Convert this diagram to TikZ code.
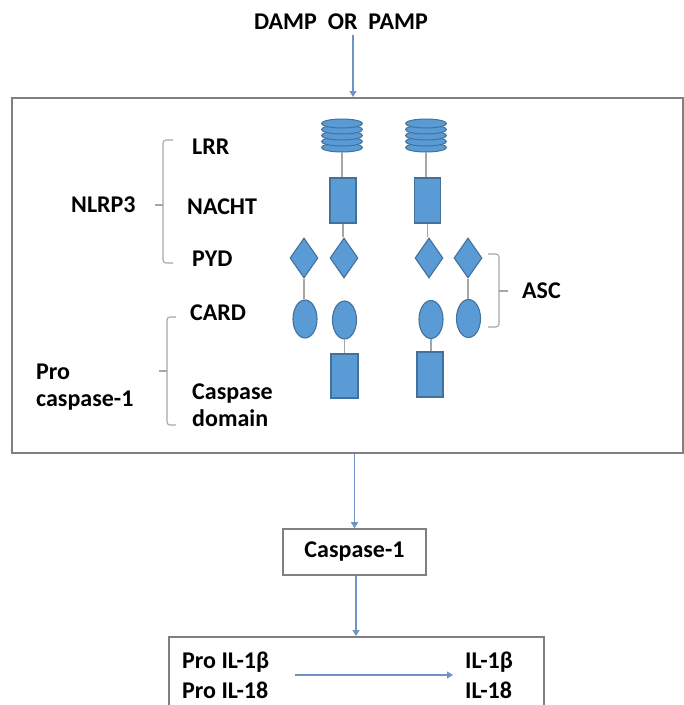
\documentclass[tikz,border=0pt]{standalone}
\usepackage{fontspec}
\setmainfont{Carlito}
\usetikzlibrary{shapes.geometric,arrows.meta}
\definecolor{dom}{HTML}{5B9BD5}
\definecolor{domline}{HTML}{41719C}
\definecolor{link}{HTML}{A6A6A6}
\definecolor{flow}{HTML}{6F93C3}
\definecolor{frame}{HTML}{808080}
\tikzset{
  lbl/.style={font=\fontsize{24}{27}\selectfont\bfseries, inner sep=0pt},
  lblL/.style={lbl, anchor=west},
  rectdom/.style={draw=domline, fill=dom, line width=1.1pt, minimum width=26pt, minimum height=45pt, inner sep=0pt},
  diadom/.style={draw=domline, fill=dom, line width=1.1pt, diamond, minimum width=28pt, minimum height=40pt, inner sep=0pt},
  elldom/.style={draw=domline, fill=dom, line width=1.1pt, ellipse, minimum width=24pt, minimum height=38pt, inner sep=0pt},
  lrr/.style={draw=domline, fill=dom, line width=1pt},
  linkline/.style={draw=link, line width=1.3pt},
  flowarrow/.style={draw=flow, line width=1.1pt, -{Triangle[width=7pt,length=6pt]}},
  bracket/.style={draw=link, line width=1.1pt, rounded corners=3pt},
  boxframe/.style={draw=frame, line width=1.6pt},
}
\begin{document}
\begin{tikzpicture}[x=1pt,y=-1pt]
\clip (0,0) rectangle (684,705);
\fill[white] (0,0) rectangle (684,705);

% stimulus and inflammasome frame
\node[lbl] (stim) at (341,22) {DAMP\ \ OR\ \ PAMP};
\coordinate (stimfoot) at (353,35);
\node[boxframe, minimum width=671pt, minimum height=355pt, inner sep=0pt, anchor=north west] (infl) at (11,97) {};
\draw[flowarrow] (stimfoot) -- (infl.north -| stimfoot);

% NLRP3 labels
\node[lblL] (tLRR) at (192,147) {LRR};
\node[lblL] (tNACHT) at (187,207) {NACHT};
\node[lblL] (tPYD) at (192,259) {PYD};
\node[lblL] (tCARD) at (190,313) {CARD};
\node[lblL, align=left] (tCasp) at (192,405) {Caspase\\domain};
\node[lblL] (tNLRP3) at (71,205) {NLRP3};
\node[lblL, align=left] (tPro) at (36,387) {Pro\\caspase-1};

% brackets
\coordinate (b1t) at (163,140);
\coordinate (b1b) at (163,263);
\draw[bracket] (173,140) -- (b1t) -- (b1b) -- (173,263);
\draw[bracket] (163,205) -- (155,205);
\coordinate (b2t) at (167,317);
\coordinate (b2b) at (167,425);
\draw[bracket] (176,317) -- (b2t) -- (b2b) -- (176,425);
\draw[bracket] (167,371) -- (159,371);
\coordinate (b3t) at (499,254);
\coordinate (b3b) at (499,327);
\draw[bracket] (488,254) -- (b3t) -- (b3b) -- (488,327);
\draw[bracket] (499,291) -- (508,291);
\node[lblL] (tASC) at (522,291) {ASC};

% LRR stacks
\foreach \cx/\nm in {342/lrrA, 426/lrrB}{
  \foreach \cy in {147.5,141.5,135.5,129.5,123.5}{
    \filldraw[lrr] (\cx,\cy) ellipse (20.5pt and 4.5pt);
  }
  \coordinate (\nm) at (\cx,152);
}

% NACHT domains
\node[rectdom] (nA) at (343,200.5) {};
\node[rectdom] (nB) at (427.5,200.5) {};

% PYD diamonds
\node[diadom] (d1) at (304,258) {};
\node[diadom] (d2) at (344,258) {};
\node[diadom] (d3) at (429,258) {};
\node[diadom] (d4) at (468,258) {};

% CARD ellipses
\node[elldom] (e1) at (305,319) {};
\node[elldom] (e2) at (344.5,320) {};
\node[elldom] (e3) at (431,319.5) {};
\node[elldom] (e4) at (468.5,318.5) {};

% caspase domains
\node[rectdom, minimum height=44pt, minimum width=27pt] (cA) at (344.5,376) {};
\node[rectdom, minimum height=45pt] (cB) at (430,374.5) {};

% links between domains
\draw[linkline] (lrrA) -- (nA.north -| lrrA);
\draw[linkline] (lrrB) -- (nB.north -| lrrB);
\draw[linkline] (nA.south) -- (d2.north -| nA.south);
\draw[linkline] (nB.south) -- (d3.north -| nB.south);
\draw[linkline] (d1.south) -- (e1.north -| d1.south);
\draw[linkline] (d4.south) -- (e4.north -| d4.south);
\draw[linkline] (e2.south) -- (cA.north -| e2.south);
\draw[linkline] (e3.south) -- (cB.north -| e3.south);

% caspase-1 activation
\node[boxframe, minimum width=143pt, minimum height=46pt, inner sep=0pt] (casp1) at (354.5,552) {};
\node[lbl] (tcasp1) at (casp1.center) {Caspase-1};
\draw[flowarrow] (infl.south -| casp1.north) -- (casp1.north);

% cytokine processing
\node[boxframe, minimum width=375pt, minimum height=100pt, inner sep=0pt, anchor=north west] (cyto) at (168,636) {};
\draw[flowarrow] (casp1.south -| 356,0) -- (cyto.north -| 356,0);
\node[lblL] (tpro1) at (182,662) {Pro IL-1β};
\node[lblL] (tpro2) at (182,690) {Pro IL-18};
\node[lblL] (til1) at (465,662) {IL-1β};
\node[lblL] (til2) at (465,690) {IL-18};
\coordinate (cytoA) at (295,675);
\coordinate (cytoB) at (453,675);
\draw[flowarrow] (cytoA) -- (cytoB);
\end{tikzpicture}
\end{document}
